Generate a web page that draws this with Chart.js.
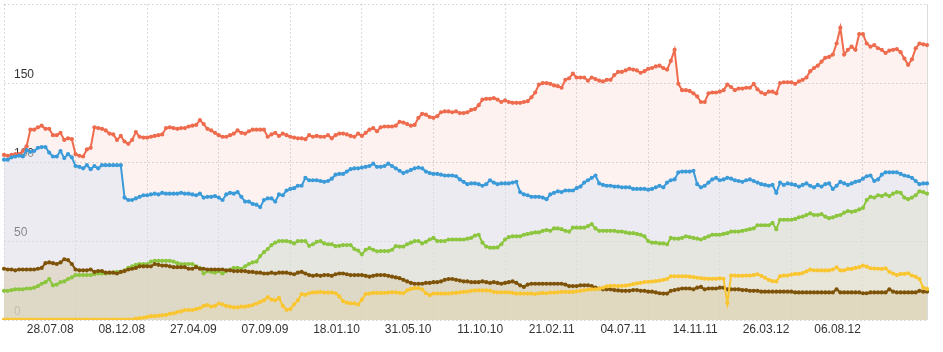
<!DOCTYPE html>
<html>
<head>
<meta charset="utf-8">
<script src="https://cdn.jsdelivr.net/npm/chart.js@4.4.1/dist/chart.umd.min.js"></script>
<style>
  html, body { margin: 0; padding: 0; background: #fff; }
  #wrap { width: 943px; height: 352px; position: relative; }
</style>
</head>
<body>
<div id="wrap"><canvas id="myChart"></canvas></div>
<script>
// weekly points, first week 17.03.08 (one week missing in the data around new year 2009)
const firstWeek = [2008, 2, 17];
const missingWeeks = ['29.12.08'];

const tickLabels = ['28.07.08', '08.12.08', '27.04.09', '07.09.09', '18.01.10', '31.05.10',
                    '11.10.10', '21.02.11', '04.07.11', '14.11.11', '26.03.12', '06.08.12'];

const redValues = [104.5,104,104.5,105,105,107,110,120.5,120.5,122,
  123,121,121,117,117,118.5,114,115,114.5,105,
  104,103.5,108,109,122,121.5,121,120,118,117.5,
  114,116.5,113,111.5,114,119,116,115.5,115.5,116,
  116.5,117,117.5,121.5,122,121.5,121,121.5,121.5,122.5,
  123,123.5,126.5,124,121,120,118.5,117,116,116,
  117,118,120,118.5,118,119.5,120.5,120.5,120.5,120.5,
  116,117.5,118.5,116.5,118,117,116,115.5,115,115,
  114.5,117,116,116.5,116,116,117,115,117,118,
  118,117.5,116.5,116,118,116.5,118.5,120.5,121.5,119.5,
  122,122.5,122.5,122.5,123,125.5,125,124,123,123.5,
  128,130.5,130,128.5,128,129,131.5,132,132,131.5,
  132,131,131,131.5,133,133.5,136,139.5,140,140,
  140.5,139.5,138,139,138,137.5,137.5,137.5,138,138.5,
  141,144,149,150,150,149.5,148.5,148,147,152,
  153,156,153.5,153.5,153.5,151.5,153.5,152.5,151.5,151,
  152,152,155,157,157,158,159,158.5,158,156.5,
  157.5,159,159.5,160.5,161,159.5,158.5,164,171,149.5,
  145.5,145.5,145,143.5,141.5,138,138,143.5,144,144,
  144.5,145.5,149,147.5,145.5,146.5,146.5,147,147,149.5,
  146,144,143,144.5,144.5,143.5,150,150.5,150.5,150.5,
  149.5,151,152,153.5,157.5,159.5,161,163.5,166,166.5,
  168,175,185,168,171,173,171,181,181,175,
  173,174,172,171,169,170.5,171,171.5,169.5,165.5,
  161.5,165,172,175,174.5,174];

const blueValues = [101.5,101.5,103,103.5,104,103.5,107.5,106.5,107,109,
  109.5,109.5,106,103.5,103.5,107,102.5,105,103,97.5,
  97,96,98,95.5,97.5,96,98,98,98,98,
  98,98,77.5,76,76,77,78,79,79,79.5,
  80,79.5,80.5,80,80,80,80,80.5,80,80,
  79.5,79,80,77.5,78,78,78.5,77.5,76,79.5,
  80.5,80,81,78,75,75,73.5,73,71.5,76,
  77,77,75,79.5,79,82,83,83.5,85,85,
  90,88.5,88.5,88.5,88,87.5,88,89.5,92,92.5,
  92.5,94,95.5,96,96,96.5,97,97.5,99,97,
  97,97.5,99,97.5,96,94.5,93,94,95,96,
  96.5,96,94,93,92.5,92.5,92,91.5,91.5,91.5,
  91,89,87.5,86,86.5,86.5,86,85,86,88.5,
  87,86,86.5,86.5,86.5,87,87.5,81,79.5,79,
  78,78,78,77.5,76.5,79.5,80.5,81.5,81,82,
  82,82,83.5,84.5,87,88.5,90,91.5,86.5,85.5,
  85,85,84.5,84.5,84,84,84,83,83,83,
  83,82.5,83,84,85,84,87,88.5,89,93.5,
  94,94,94,94.5,86,84,85,87,89,90,
  88.5,89,90,89.5,88.5,88,87.5,88.5,89,88,
  87,86,85.5,85,85.5,80.5,87,85.5,86.5,86,
  85.5,84.5,85.5,86.5,85,84,85.5,84.5,86,86.5,
  83,85,87.5,86.5,85.5,86.5,87.5,88,89.5,91,
  91.5,88,89,92,93.5,93.5,93.5,93.5,92.5,91.5,
  91,90,88,86,86.5,86.5];

const greenValues = [18.5,18.5,19,19.5,19.5,19.5,20,20,20.5,21.5,
  23,24,26,22,22.5,24,24.5,26,27,28.5,
  28.5,28.5,28.5,28.5,29,29.5,29.5,29.5,30,30,
  30.5,30.5,31.5,33,34,35,35.5,35.5,35.5,37,
  37.5,37.5,37.5,37.5,37.5,37,36,35.5,35.5,35.5,
  35.5,34,33,29.5,31,30.5,30,31,29.5,31,
  32,33,33,32.5,34,35.5,36.5,37,40.5,43,
  45,47.5,49,50,50,50,49.5,48.5,50,50,
  50,47,48,49.5,50,48.5,48,48,46.8,47,
  47.5,47.5,47.5,45,44,41.6,44.5,45.5,44.5,43.5,
  43.7,43.7,43.7,44.5,46.8,46.5,46.5,48,49,50,
  50,48.5,49.5,51,52,50,50,50,51,51,
  51,51,51,51.5,52,53.5,54,49,46.5,45.8,
  45.8,46,48,51,52.5,53,53,53,54,54.5,
  55,55.5,55.5,56.5,57,56.5,58,58,57.5,56.5,
  56,58.5,58.5,58.5,58.5,59.5,60.7,58,56.5,56.5,
  56.5,56.5,56.5,56,56,55.5,55,55,54.5,54,
  53,50,49,49,48.5,48.5,48,52,51.5,51.5,
  52,53,52.5,52,51.5,51,52,53,54,54,
  54,54.5,55,56,56,56,56.5,57,57.5,58,
  60,60,60,60,61.5,57.5,63.5,63.5,63.5,63.5,
  64,65,65.5,66.5,67.5,66.5,66.5,67,65.5,64.5,
  65,66,66.5,68,69,68.5,69,70,71,76,
  78,77.5,79,78.5,79.5,78.5,80,81,80.5,77.5,
  76.5,77.5,79,81.5,81,80];

const brownValues = [32.5,32,32,31.5,32,32,32,32,32,32.5,
  33,36,36.5,36,35.5,36.5,38.5,38,35.5,32,
  31.5,31.5,31.5,32,30.5,31,31,30,30,30,
  29.5,30.5,31,32,32.5,33,34,34,34,34,
  35.5,35,34.5,34.5,34,33.5,33.5,33.5,33.5,32.5,
  32.5,33.5,32.5,32.5,32,32,32,32,32,31.5,
  31.5,31,31,31,31,30.5,30.5,30,30,29.5,
  29.5,30,29.5,30,30,30,29.5,29,30,30.5,
  29.5,28.5,28,28.5,28,28.5,28.5,28,29,29.5,
  29.5,29,28.5,28.5,28.5,28.5,28,27.5,28,28.5,
  28.5,28.5,28,27.5,27,26.5,25.5,24.5,23.5,23,
  23,23,23.5,23.5,24,24,24.5,25.5,26,26,
  25.5,25,24.5,24.5,24,24,24,24.5,24,23.5,
  24,23.5,23,23.5,24,24.5,23.5,22,21,22.5,
  23,23,23,23,23,23,23,23,23,22.5,
  21.5,21.5,21.5,22,22,22,21.5,20.5,20,19.5,
  19.5,19.5,19,18.8,18.5,18.5,18.5,19,19,18.5,
  18.5,18,18,17.5,17,16.8,16.8,18.5,19,19.5,
  20,20,20,19.5,20.5,21,19.5,20,20,20,
  20.5,20.5,19.5,19.5,19.5,19.5,19,19,18.5,18.5,
  18.5,18,18,18,18,18,18,18,18,18,
  17.5,17.5,17.5,17.5,17.5,17.5,17.5,17.5,17.5,17.5,
  17.5,19.5,17.5,17.5,17.5,17.5,17.5,17.5,17,17,
  17.5,17.5,17.5,17.5,17.5,19.5,18,17.5,17.5,17.5,
  17.5,17.5,17.5,18.5,18,18];

const yellowValues = [0.3,0.3,0.3,0.3,0.3,0.3,0.3,0.3,0.3,0.3,
  0.3,0.3,0.3,0.3,0.3,0.3,0.3,0.3,0.3,0.3,
  0.3,0.3,0.3,0.3,0.3,0.3,0.3,0.3,0.3,0.3,
  0.3,0.3,0.3,0.3,0.3,1,1.2,1.5,2,2.5,
  2.5,2.8,3,3.3,4,4.3,5,5.5,6.4,6.4,
  6.4,7,7.5,9,9.5,8.5,9,10.5,10,9,
  8.5,8,8,8.5,8.5,9,9.5,10.5,11.5,12.5,
  14.5,13,12.5,14,9,6.5,7,10,12.5,16.5,
  16,17,17.5,17.5,17.8,17.4,17.4,17.4,17,15,
  12,11,10.6,10.6,9.8,13,16.5,16.8,17.2,17.2,
  17.2,17.2,17.4,17.6,17.6,17.2,17,18.8,19.7,20.2,
  20.2,19.5,17,15.8,16.8,16.8,16.8,16.8,16.8,17.1,
  17.2,17.6,17.8,18,18.5,18.8,18.8,18.8,18.8,18.6,
  17.8,17.6,17.6,17.6,17.6,17.2,16.8,16.8,16.8,16.8,
  16.8,16.5,17,17.2,17,17.4,17.4,17.6,17.8,17.8,
  17.8,17.8,18.2,18.5,18.9,19.3,19.5,19.5,19.9,20.5,
  21.3,21.6,21.7,21.5,21.7,21.8,22.2,22.8,23.2,23.6,
  24,24.2,24.4,24.6,25,25.5,26,27.7,27.7,27.7,
  27.7,27.7,27.5,27.2,26.8,26.5,26.2,26.1,26.1,26.1,
  26.4,26.1,10.6,28.2,28.2,28,28,28.2,28.2,28.5,
  29,28,26.8,25.5,24.6,24.5,27.8,28.2,28.2,28.8,
  29.2,29.2,29.8,30.8,31.9,31.5,31.4,31.4,31.4,31.4,
  32,33.3,31.4,31.4,32.4,32.4,33,33.5,34.5,33.8,
  32.8,32.6,32.5,32.4,32.8,30.6,29.5,28.5,29.2,29.2,
  29.6,28.2,27.4,26,20.5,19.8];

// gridlines of the value axis; the top one (200) carries no label
const yGrid = [0, 50, 100, 150, 200];
const yTicks = [0, 50, 100, 150];

function pad(n) { return (n < 10 ? '0' : '') + n; }

// build the weekly category labels
const labels = [];
let w = 0;
while (labels.length < redValues.length) {
    const d = new Date(Date.UTC(firstWeek[0], firstWeek[1], firstWeek[2] + w * 7));
    const s = pad(d.getUTCDate()) + '.' + pad(d.getUTCMonth() + 1) + '.' + String(d.getUTCFullYear()).slice(2);
    w++;
    if (missingWeeks.includes(s)) continue;
    labels.push(s);
}

function series(values, color, fill, order) {
    return {
        data: values,
        borderColor: color,
        backgroundColor: fill,
        pointBackgroundColor: color,
        pointBorderColor: color,
        pointBorderWidth: 0,
        pointRadius: 2.1,
        borderWidth: 2,
        tension: 0,
        fill: 'origin',
        order: order
    };
}

const gridColor = 'rgba(0,0,0,0.14)';
const fontSpec = { family: '"Liberation Sans", Arial, sans-serif', size: 12 };

const ctx = document.getElementById('myChart').getContext('2d');
new Chart(ctx, {
    type: 'line',
    data: {
        labels: labels,
        datasets: [
            series(redValues, '#ee6b4d', 'rgba(240,110,80,0.085)', 5),
            series(blueValues, '#3b9bd9', 'rgba(217,228,246,0.45)', 4),
            series(greenValues, '#8cc53e', 'rgba(221,226,205,0.5)', 3),
            series(brownValues, '#7e5308', 'rgba(215,202,172,0.5)', 2),
            series(yellowValues, '#f9c631', 'rgba(250,215,90,0.06)', 1)
        ]
    },
    options: {
        responsive: true,
        maintainAspectRatio: false,
        animation: false,
        layout: { padding: { left: 1, right: 16, top: 0, bottom: 13.5 } },
        plugins: {
            legend: { display: false },
            tooltip: { enabled: false },
            filler: { drawTime: 'beforeDatasetsDraw' }
        },
        scales: {
            x: {
                type: 'category',
                offset: false,
                grid: {
                    drawTicks: false,
                    color: c => (c.index === 0 || c.index === labels.length - 1 || tickLabels.includes(labels[c.index])) ? gridColor : 'transparent'
                },
                border: { display: false, dash: c => c.index === labels.length - 1 ? [] : [2, 2] },
                ticks: {
                    autoSkip: false,
                    maxRotation: 0,
                    minRotation: 0,
                    align: 'end',
                    labelOffset: -2,
                    padding: 2,
                    color: '#333',
                    font: fontSpec,
                    callback: function(value) {
                        const lab = this.getLabelForValue(value);
                        return tickLabels.includes(lab) ? lab : '';
                    }
                },
                afterFit: scale => { scale.paddingLeft = 0; scale.paddingRight = 0; }
            },
            y: {
                min: 0,
                max: 200,
                grid: { drawTicks: false, color: gridColor },
                border: { display: false, dash: [2, 2] },
                afterBuildTicks: scale => { scale.ticks = yGrid.map(v => ({ value: v })); },
                ticks: {
                    mirror: true,
                    padding: 10,
                    labelOffset: -8,
                    color: '#333',
                    font: fontSpec,
                    callback: value => yTicks.includes(value) ? String(value) : ''
                },
                afterFit: scale => { scale.width = 0; scale.paddingTop = 0; scale.paddingBottom = 0; }
            }
        }
    }
});
</script>
</body>
</html>
